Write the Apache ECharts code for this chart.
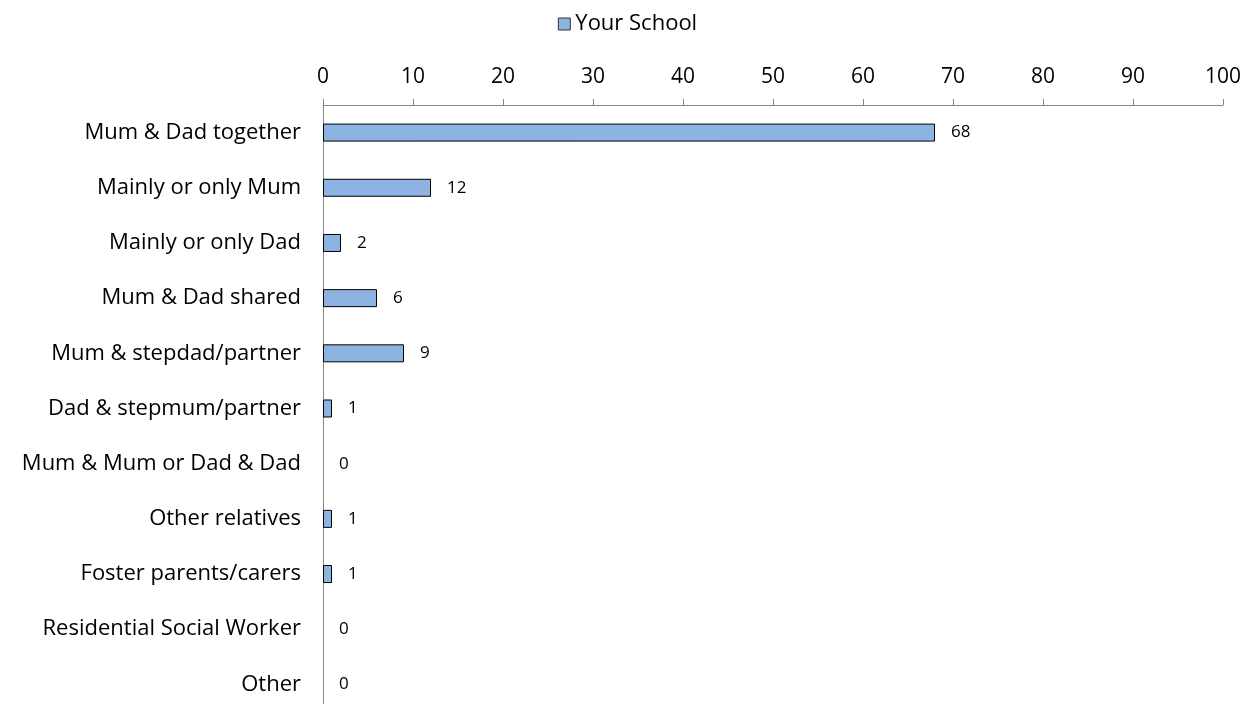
<!DOCTYPE html>
<html>
<head>
<meta charset="utf-8">
<script src="https://cdn.jsdelivr.net/npm/echarts@6/dist/echarts.min.js"></script>
<style>
  html, body { margin: 0; padding: 0; background: #fff; }
  #chart { width: 1255px; height: 704px; }
</style>
</head>
<body>
<div id="chart"></div>
<script>
// Who pupils live with — percentage of pupils
const categories = [
  'Mum & Dad together',
  'Mainly or only Mum',
  'Mainly or only Dad',
  'Mum & Dad shared',
  'Mum & stepdad/partner',
  'Dad & stepmum/partner',
  'Mum & Mum or Dad & Dad',
  'Other relatives',
  'Foster parents/carers',
  'Residential Social Worker',
  'Other'
];
const seriesName = 'Your School';
const values = [68, 12, 2, 6, 9, 1, 0, 1, 1, 0, 0];

const FONT = '"Open Sans", "Noto Sans", sans-serif';
const chart = echarts.init(document.getElementById('chart'));

// zero-valued bars get no outline so only their label shows
const barData = values.map(v => v === 0
  ? { value: v, itemStyle: { borderWidth: 0 } }
  : v);

chart.setOption({
  animation: false,
  textStyle: { fontFamily: FONT },
  legend: {
    data: [seriesName],
    top: 8,
    left: 'center',
    icon: 'rect',
    itemWidth: 12,
    itemHeight: 12,
    itemGap: 5,
    textStyle: { fontSize: 22, color: '#000', fontFamily: FONT },
    itemStyle: { borderColor: '#333', borderWidth: 1 }
  },
  grid: {
    left: 323, right: 32, top: 105, height: 607,
    containLabel: false,
    outerBoundsMode: 'none'
  },
  xAxis: {
    type: 'value',
    position: 'top',
    min: 0,
    max: 100,
    interval: 10,
    axisLine: { show: true, lineStyle: { color: '#868686', width: 1 } },
    axisTick: { show: true, length: 6, inside: false, lineStyle: { color: '#868686' } },
    axisLabel: { fontSize: 21, color: '#000', margin: 17, fontFamily: FONT },
    splitLine: { show: false }
  },
  yAxis: {
    type: 'category',
    data: categories,
    inverse: true,
    axisLine: { show: true, lineStyle: { color: '#868686', width: 1 } },
    axisTick: { show: false },
    axisLabel: { fontSize: 22, color: '#000', margin: 22, fontFamily: FONT }
  },
  series: [{
    name: seriesName,
    type: 'bar',
    data: barData,
    barWidth: 18,
    itemStyle: { color: '#8DB3E2', borderColor: '#000', borderWidth: 1 },
    label: {
      show: true,
      position: 'right',
      distance: 16,
      fontSize: 17,
      color: '#000',
      fontFamily: FONT
    }
  }]
});
</script>
</body>
</html>
